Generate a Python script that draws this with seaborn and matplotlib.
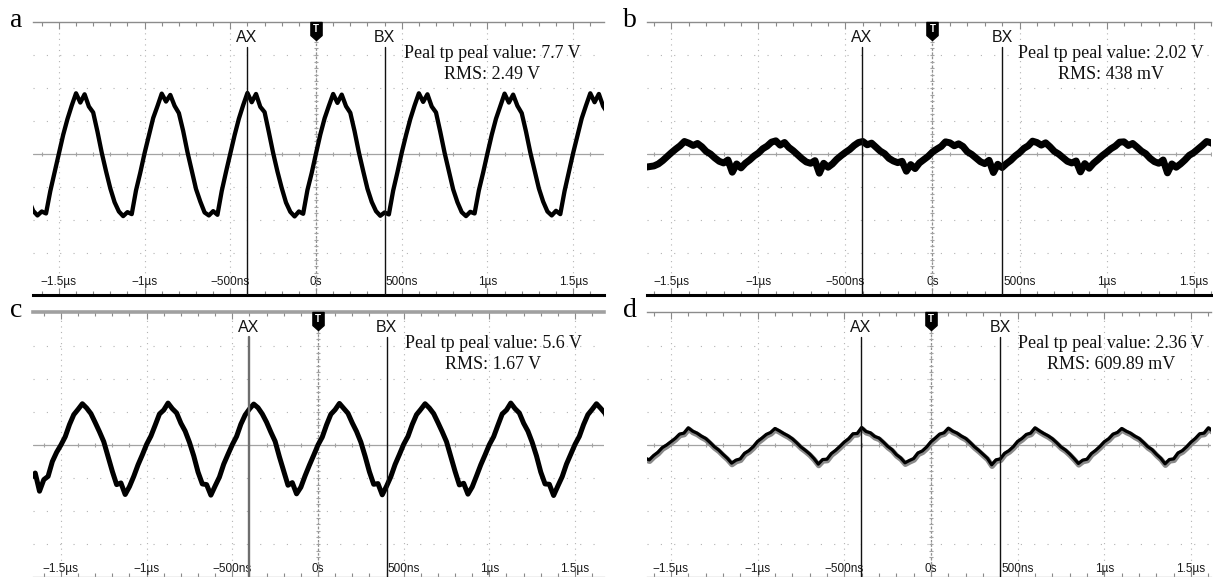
import numpy as np
import matplotlib
matplotlib.use("Agg")
import matplotlib.pyplot as plt
import matplotlib.transforms as mtransforms
from matplotlib.path import Path
import seaborn as sns

# scope time base, one sample every 25 ns (µs)
time_us = np.round(np.arange(-1.675, 1.7001, 0.025), 3)

# traces, in vertical divisions from the centre line
trace_a = [
    -1.40, -1.72, -1.86, -1.74, -1.80, -1.12, -0.55,
    0.02, 0.58, 1.06, 1.47, 1.84, 1.56, 1.81, 1.44, 1.26, 0.68, 0.04, -0.52, -1.04, -1.46, -1.74, -1.88, -1.76, -1.82, -1.10, -0.56,
    0.03, 0.56, 1.09, 1.45, 1.83, 1.59, 1.79, 1.46, 1.24, 0.70, 0.06, -0.50, -1.06, -1.44, -1.77, -1.86, -1.73, -1.84, -1.12, -0.54,
    0.01, 0.57, 1.07, 1.48, 1.85, 1.57, 1.82, 1.43, 1.27, 0.66, 0.03, -0.53, -1.03, -1.47, -1.75, -1.89, -1.74, -1.81, -1.09, -0.57,
    0.02, 0.59, 1.08, 1.46, 1.82, 1.55, 1.80, 1.45, 1.25, 0.69, 0.05, -0.51, -1.05, -1.45, -1.73, -1.87, -1.77, -1.83, -1.11, -0.55,
    0.04, 0.57, 1.06, 1.47, 1.84, 1.58, 1.81, 1.44, 1.26, 0.67, 0.04, -0.52, -1.07, -1.46, -1.76, -1.88, -1.75, -1.80, -1.10, -0.56,
    0.02, 0.58, 1.07, 1.45, 1.83, 1.56, 1.80, 1.46, 1.24, 0.68, 0.05, -0.50, -1.04, -1.44, -1.74, -1.86, -1.72, -1.82, -1.12, -0.54,
    0.03, 0.56, 1.08, 1.47, 1.84, 1.57, 1.82, 1.45, 1.25,
]
trace_b = [
    -0.32, -0.40, -0.38, -0.36, -0.30, -0.20, -0.08,
    0.04, 0.15, 0.25, 0.38, 0.33, 0.26, 0.32, 0.22, 0.08, 0.00, -0.12, -0.22, -0.27, -0.18, -0.55, -0.30, -0.42, -0.28, -0.18, -0.06,
    0.03, 0.16, 0.24, 0.36, 0.40, 0.27, 0.35, 0.20, 0.10, -0.02, -0.14, -0.24, -0.28, -0.20, -0.58, -0.28, -0.40, -0.30, -0.16, -0.05,
    0.05, 0.14, 0.26, 0.35, 0.38, 0.28, 0.33, 0.21, 0.09, 0.01, -0.13, -0.21, -0.26, -0.22, -0.52, -0.32, -0.44, -0.27, -0.17, -0.07,
    0.06, 0.15, 0.23, 0.37, 0.34, 0.25, 0.31, 0.23, 0.07, -0.01, -0.12, -0.23, -0.29, -0.19, -0.56, -0.31, -0.41, -0.29, -0.19, -0.06,
    0.04, 0.17, 0.25, 0.39, 0.35, 0.27, 0.34, 0.22, 0.08, 0.00, -0.11, -0.22, -0.27, -0.21, -0.54, -0.29, -0.43, -0.28, -0.17, -0.05,
    0.05, 0.16, 0.24, 0.36, 0.37, 0.26, 0.32, 0.21, 0.09, 0.01, -0.13, -0.23, -0.28, -0.18, -0.57, -0.30, -0.40, -0.30, -0.18, -0.04,
    0.04, 0.15, 0.26, 0.38, 0.34, 0.27, 0.33, 0.22, 0.09,
]
trace_c = [
    -1.00, -0.85, -1.40, -1.05, -0.95, -0.50, -0.22,
    0.00, 0.25, 0.62, 0.92, 1.08, 1.25, 1.12, 0.95, 0.68, 0.40, 0.10, -0.35, -0.80, -1.20, -1.15, -1.50, -1.26, -0.95, -0.60, -0.30,
    0.02, 0.27, 0.60, 0.94, 1.06, 1.27, 1.10, 0.97, 0.66, 0.42, 0.08, -0.33, -0.82, -1.18, -1.20, -1.52, -1.24, -0.97, -0.58, -0.28,
    0.01, 0.26, 0.63, 0.91, 1.09, 1.24, 1.13, 0.94, 0.69, 0.39, 0.11, -0.36, -0.79, -1.22, -1.14, -1.48, -1.28, -0.93, -0.61, -0.31,
    0.00, 0.24, 0.61, 0.93, 1.07, 1.26, 1.11, 0.96, 0.67, 0.41, 0.09, -0.34, -0.81, -1.19, -1.17, -1.51, -1.25, -0.96, -0.59, -0.29,
    0.02, 0.26, 0.62, 0.92, 1.08, 1.25, 1.12, 0.95, 0.68, 0.40, 0.10, -0.35, -0.80, -1.21, -1.16, -1.49, -1.27, -0.94, -0.60, -0.30,
    0.01, 0.25, 0.60, 0.94, 1.06, 1.27, 1.10, 0.97, 0.66, 0.42, 0.08, -0.33, -0.82, -1.18, -1.19, -1.53, -1.24, -0.96, -0.58, -0.28,
    0.02, 0.26, 0.62, 0.92, 1.08, 1.25, 1.11, 0.96, 0.67,
]
trace_d = [
    -0.30, -0.40, -0.45, -0.32, -0.22, -0.08, 0.00,
    0.10, 0.20, 0.33, 0.36, 0.52, 0.42, 0.36, 0.27, 0.20, 0.08, -0.05, -0.15, -0.28, -0.40, -0.55, -0.46, -0.42, -0.25, -0.17, -0.05,
    0.11, 0.21, 0.32, 0.38, 0.50, 0.43, 0.35, 0.28, 0.19, 0.07, -0.06, -0.16, -0.27, -0.41, -0.58, -0.44, -0.43, -0.26, -0.16, -0.04,
    0.09, 0.19, 0.34, 0.35, 0.53, 0.41, 0.37, 0.26, 0.21, 0.09, -0.04, -0.14, -0.29, -0.39, -0.54, -0.47, -0.41, -0.24, -0.18, -0.06,
    0.10, 0.21, 0.33, 0.37, 0.51, 0.42, 0.36, 0.27, 0.20, 0.08, -0.05, -0.16, -0.28, -0.40, -0.60, -0.45, -0.42, -0.25, -0.17, -0.05,
    0.11, 0.20, 0.32, 0.36, 0.52, 0.43, 0.35, 0.28, 0.19, 0.07, -0.06, -0.15, -0.27, -0.41, -0.56, -0.46, -0.43, -0.26, -0.16, -0.04,
    0.10, 0.19, 0.33, 0.38, 0.50, 0.42, 0.36, 0.27, 0.20, 0.08, -0.05, -0.14, -0.28, -0.40, -0.57, -0.44, -0.42, -0.24, -0.17, -0.05,
    0.09, 0.20, 0.34, 0.36, 0.52, 0.42, 0.37, 0.26, 0.20,
]

tick_pos = [-1.5, -1.0, -0.5, 0.0, 0.5, 1.0, 1.5]
tick_labels = ["\u22121.5\u00b5s", "\u22121\u00b5s", "\u2212500ns", "0s", "500ns", "1\u00b5s", "1.5\u00b5s"]
grid_div = [-3, -2, -1, 1, 2, 3]
cursor_ax_us = -0.405
cursor_bx_us = 0.40
panel_letters = ["a", "b", "c", "d"]
peak_to_peak = ["7.7 V", "2.02 V", "5.6 V", "2.36 V"]
rms_values = ["2.49 V", "438 mV", "1.67 V", "609.89 mV"]
traces = [trace_a, trace_b, trace_c, trace_d]

# layout of the four screens in pixels (left, top, right, bottom)
W, H = 1213, 577
boxes = [(33, 22, 604, 295), (647, 22, 1211, 295), (33, 312, 604, 577), (647, 312, 1211, 577)]
xlims = [(-1.651, 1.680), (-1.640, 1.583), (-1.663, 1.669), (-1.638, 1.615)]
ylims = [(-4.27, 4.0), (-4.27, 4.0), (-4.0, 4.03), (-4.0, 4.03)]
trace_lw = [3.1, 5.0, 3.6, 2.3]
letter_xy = [(16, 27), (630, 27), (16, 317), (630, 317)]
note_x = [0.804, 0.823, 0.806, 0.823]

sns.set_theme(style="white")
plt.rcParams["font.family"] = ["Liberation Sans", "DejaVu Sans"]
serif = ["Liberation Serif", "DejaVu Serif"]

t_marker = Path([(-0.62, 1), (0.62, 1), (0.62, -0.45), (0, -1), (-0.62, -0.45), (-0.62, 1)],
                [Path.MOVETO, Path.LINETO, Path.LINETO, Path.LINETO, Path.LINETO, Path.CLOSEPOLY])

fig = plt.figure(figsize=(W / 100, H / 100), dpi=100)
minor_x = np.round(np.arange(-1.6, 1.65, 0.1), 2)
minor_y = np.round(np.arange(-3.8, 3.9, 0.2), 2)

for i in range(4):
    x0, y0, x1, y1 = boxes[i]
    h_px = y1 - y0
    ax = fig.add_axes([x0 / W, 1 - y1 / H, (x1 - x0) / W, h_px / H])
    ax.set_xlim(*xlims[i])
    ax.set_ylim(*ylims[i])
    blend = mtransforms.blended_transform_factory(ax.transData, ax.transAxes)

    # graticule
    ax.set_xticks(tick_pos)
    ax.set_xticklabels(tick_labels)
    ax.set_xticks(minor_x, minor=True)
    ax.set_yticks(grid_div)
    ax.grid(axis="x", which="major", color="#b3b3b3", lw=0.8, ls=(0, (1, 4)))
    ax.grid(axis="y", which="major", color="#b3b3b3", lw=0.8, ls=(0, (1, 11)))
    ax.axhline(0, color="#a3a3a3", lw=0.9, zorder=1)
    ax.plot(minor_x, np.zeros_like(minor_x), ls="none", marker="|", ms=3.5, mew=0.8, color="#a3a3a3", zorder=1)
    ax.axvline(0, ymax=1 - 17 / h_px, color="#8f8f8f", lw=0.9, ls=(0, (2, 1.5)), zorder=1)
    ax.plot(np.zeros_like(minor_y), minor_y, ls="none", marker="_", ms=3.5, mew=0.8, color="#a3a3a3", zorder=1)

    ax.tick_params(axis="x", which="both", direction="in", top=True, bottom=True, color="#8a8a8a",
                   labelsize=8.5, labelcolor="#1a1a1a", pad=-13.5 if i < 2 else -10)
    ax.tick_params(axis="x", which="major", length=5, width=0.8)
    ax.tick_params(axis="x", which="minor", length=3, width=0.8)
    ax.tick_params(axis="y", left=False, right=False, labelleft=False)
    for lab in ax.get_xticklabels():
        lab.set_zorder(6)

    for side in ["left", "right"]:
        ax.spines[side].set_visible(False)
    ax.spines["top"].set_color("#a0a0a0" if i == 2 else "#8c8c8c")
    ax.spines["top"].set_linewidth(2.6 if i == 2 else 1.0)
    ax.spines["bottom"].set_color("black" if i < 2 else "#b5b5b5")
    ax.spines["bottom"].set_linewidth(2.2 if i < 2 else 1.0)

    # waveform
    if i == 3:
        sns.lineplot(x=time_us, y=traces[i], ax=ax, color="#8a8a8a", linewidth=4.0, zorder=3)
        ax.lines[-1].set_transform(mtransforms.offset_copy(ax.transData, fig=fig, x=0.3, y=-1.0, units="points"))
    sns.lineplot(x=time_us, y=traces[i], ax=ax, color="black", linewidth=trace_lw[i], zorder=4)
    ax.set_xlabel("")
    ax.set_ylabel("")

    # cursors
    for xc, name in [(cursor_ax_us, "AX"), (cursor_bx_us, "BX")]:
        grey_cursor = (i == 2 and name == "AX")
        ax.axvline(xc, ymax=1 - 25 / h_px, color="#6e6e6e" if grey_cursor else "#111111",
                   lw=1.7 if grey_cursor else 1.0, zorder=5)
        ax.text(xc, 1 - 15 / h_px, name, transform=blend, ha="center", va="center",
                fontsize=11.5, color="#151515", zorder=6)

    # trigger marker
    ax.plot([0], [1 - 8.5 / h_px], transform=blend, marker=t_marker, ms=13, color="black",
            ls="none", clip_on=False, zorder=7)
    ax.text(0, 1 - 6.5 / h_px, "T", transform=blend, ha="center", va="center", color="white",
            fontsize=7, fontweight="bold", zorder=8)

    ax.text(note_x[i], 1 - 42 / h_px, f"Peal tp peal value: {peak_to_peak[i]}\nRMS: {rms_values[i]}",
            transform=ax.transAxes, ha="center", va="center", multialignment="center",
            fontsize=13, family=serif, color="#111111", linespacing=1.3, zorder=6)

    lx, ly = letter_xy[i]
    fig.text(lx / W, 1 - ly / H, panel_letters[i], ha="center", va="baseline",
             fontsize=20, family=serif, color="black")

fig.savefig("out.png", dpi=100, facecolor="white")
